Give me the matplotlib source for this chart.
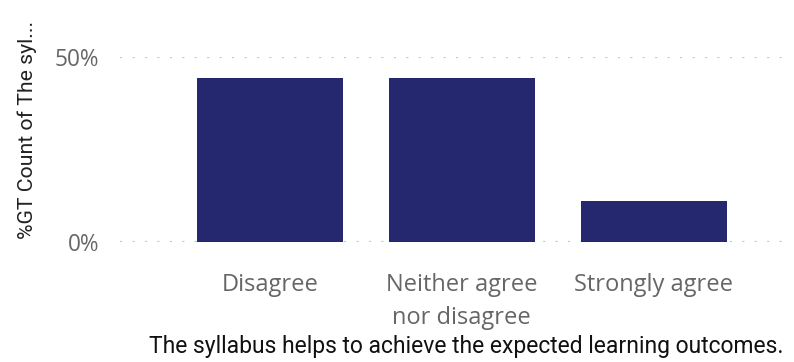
import matplotlib.pyplot as plt
from matplotlib.ticker import PercentFormatter

categories = ["Disagree", "Neither agree\nnor disagree", "Strongly agree"]
shares = [0.444, 0.444, 0.111]
yticks = [0.0, 0.5]

bar_color = "#26286F"
grid_color = "#C8C8C8"
tick_color = "#666666"

plt.rcParams['font.family'] = ['Open Sans', 'DejaVu Sans']

fig = plt.figure(figsize=(7.94, 3.62), dpi=100)
ax = fig.add_axes([120 / 794, 120 / 362, 670 / 794, 185 / 362])

x = list(range(len(categories)))
ax.bar(x, shares, width=0.76, color=bar_color, zorder=2)

ax.set_xlim(-0.78, 2.71)
ax.set_ylim(0, 0.5)
ax.set_yticks(yticks)
ax.yaxis.set_major_formatter(PercentFormatter(1.0, decimals=0))
ax.set_xticks(x)
ax.set_xticklabels(categories, fontsize=17, color=tick_color, linespacing=1.55)
ax.tick_params(axis='y', labelsize=16.3, colors=tick_color, length=0, pad=15)
ax.tick_params(axis='x', length=0, pad=22)

for y in yticks:
    ax.axhline(y, color=grid_color, lw=1.6, linestyle=(0, (1, 4.6)), zorder=1)

for side in ax.spines.values():
    side.set_visible(False)

fig.text(27 / 794, 1 - 130 / 362, "%GT Count of The syl...", rotation=90,
         ha='center', va='center', fontsize=15.3, color="#222222",
         family=['Roboto', 'DejaVu Sans'])
fig.text(466 / 794, 1 - 347 / 362, "The syllabus helps to achieve the expected learning outcomes.",
         ha='center', va='center', fontsize=16.5, color="#111111",
         family=['Roboto', 'DejaVu Sans'])

fig.savefig("out.png", dpi=100)
